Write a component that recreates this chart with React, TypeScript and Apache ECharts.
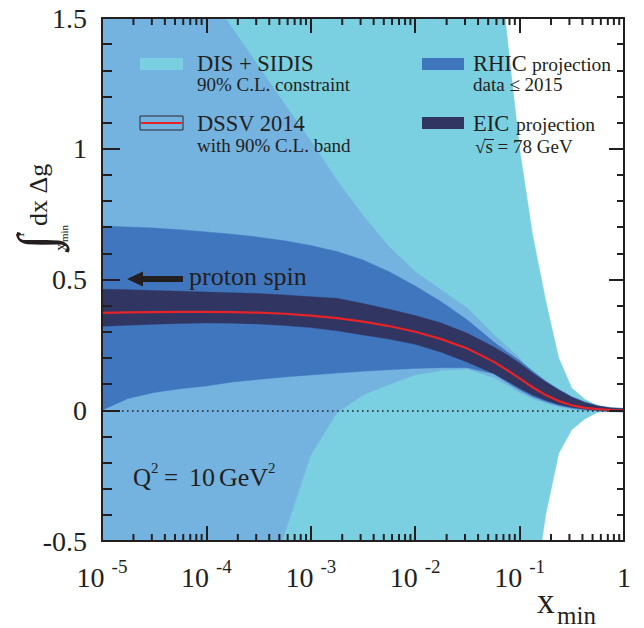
import React, { useEffect, useRef } from 'react';
import * as echarts from 'echarts';

// log10(x_min) grid
const lgx = [-5, -4.75, -4.5, -4.25, -4, -3.75, -3.5, -3.25, -3, -2.75, -2.5, -2.25, -2, -1.75, -1.5, -1.25, -1.125, -1, -0.875, -0.75, -0.625, -0.5, -0.375, -0.25, -0.125, 0];

// DSSV 2014 central curve
const dssvCentral = [0.372, 0.374, 0.375, 0.376, 0.376, 0.375, 0.373, 0.369, 0.362, 0.352, 0.339, 0.322, 0.3, 0.272, 0.236, 0.186, 0.155, 0.122, 0.088, 0.058, 0.035, 0.019, 0.009, 0.004, 0.001, 0.0];
// DSSV 2014 90% C.L. band
const dssvLow = [-1.6, -1.5, -1.4, -1.3, -1.2, -1.05, -0.8, -0.47, -0.17, -0.01, 0.058, 0.098, 0.135, 0.152, 0.158, 0.125, 0.098, 0.068, 0.045, 0.027, 0.013, 0.004, 0.0, -0.004, -0.006, -0.008];
const dssvHigh = [2.17, 2.03, 1.886, 1.745, 1.6, 1.46, 1.315, 1.17, 1.03, 0.88, 0.745, 0.625, 0.53, 0.46, 0.39, 0.29, 0.245, 0.2, 0.14, 0.09, 0.058, 0.035, 0.02, 0.012, 0.008, 0.006];
// DIS + SIDIS 90% C.L. constraint
const disLow = [-6.0, -5.8, -5.6, -5.4, -5.2, -5.0, -4.8, -4.6, -4.4, -4.2, -4.0, -3.7, -3.4, -3.0, -2.6, -2.2, -1.9, -1.45, -0.75, -0.4, -0.165, -0.075, -0.033, -0.008, -0.004, -0.004];
const disHigh = [8.0, 7.7, 7.4, 7.1, 6.8, 6.5, 6.2, 5.9, 5.6, 5.3, 5.0, 4.6, 4.2, 3.6, 2.9, 2.0, 1.45, 1.0, 0.67, 0.42, 0.2, 0.085, 0.042, 0.016, 0.008, 0.005];
// RHIC projection (data <= 2015)
const rhicLow = [0.0, 0.045, 0.068, 0.082, 0.093, 0.108, 0.118, 0.127, 0.135, 0.142, 0.149, 0.155, 0.16, 0.163, 0.163, 0.14, 0.108, 0.078, 0.052, 0.033, 0.018, 0.008, 0.002, -0.002, -0.004, -0.006];
const rhicHigh = [0.705, 0.701, 0.697, 0.69, 0.682, 0.673, 0.662, 0.648, 0.63, 0.607, 0.575, 0.53, 0.475, 0.415, 0.345, 0.262, 0.225, 0.19, 0.15, 0.112, 0.08, 0.052, 0.032, 0.018, 0.01, 0.007];
// EIC projection sqrt(s) = 78 GeV
const eicLow = [0.321, 0.325, 0.329, 0.332, 0.334, 0.333, 0.33, 0.324, 0.316, 0.304, 0.288, 0.272, 0.252, 0.222, 0.184, 0.141, 0.113, 0.084, 0.058, 0.038, 0.022, 0.011, 0.004, 0.0, -0.003, -0.005];
const eicHigh = [0.463, 0.461, 0.458, 0.455, 0.452, 0.449, 0.446, 0.441, 0.434, 0.428, 0.408, 0.386, 0.362, 0.334, 0.294, 0.243, 0.213, 0.18, 0.142, 0.108, 0.077, 0.05, 0.03, 0.016, 0.009, 0.006];

// axes
const xDecades = [-5, -4, -3, -2, -1];
const minorMultipliers = [2, 3, 4, 5, 6, 7, 8, 9];
const minorTickExps = xDecades.flatMap((n) => minorMultipliers.map((k) => n + Math.log10(k)));
const X_MIN = -5, X_MAX = 0;
const Y_MIN = -0.5, Y_MAX = 1.5, Y_STEP = 0.5;

const INK = '#231F20';
const C_DIS = '#7AD0E0';
const C_DSSV = '#74B2E0';
const C_RHIC = '#4076BD';
const C_EIC = '#313562';
const C_RED = '#E62328';
const SERIF = "'Liberation Serif', 'DejaVu Serif', serif";

function band(name: string, low: number[], high: number[], color: string, z: number) {
  return {
    name, type: 'custom', silent: true, clip: true, z,
    data: lgx.map((x, i) => [x, low[i], high[i]]),
    encode: { x: 0, y: [1, 2] },
    renderItem: (params: any, api: any) => {
      if (params.dataIndex !== 0) return null;
      const top = lgx.map((x, i) => api.coord([x, high[i]]));
      const bot = lgx.map((x, i) => api.coord([x, low[i]])).reverse();
      const cs = params.coordSys;
      return {
        type: 'polygon',
        shape: { points: top.concat(bot) },
        style: { fill: color, stroke: color, lineWidth: 0.4 },
        clipPath: { type: 'rect', shape: { x: cs.x, y: cs.y, width: cs.width, height: cs.height } },
      };
    },
  };
}

function minorTicks(name: string, yEdge: number, offset: number) {
  return {
    name, type: 'scatter', silent: true, z: 60, zlevel: 0, clip: false,
    symbol: 'rect', symbolSize: [2, 7], symbolOffset: [0, offset],
    itemStyle: { color: INK, opacity: 1, borderWidth: 0 },
    emphasis: { disabled: true },
    data: minorTickExps.map((v) => [v, yEdge]),
  };
}

function txt(text: string, x: number, baseline: number, size: number, extra: any = {}) {
  return {
    type: 'text', x, y: baseline - 0.34 * size, z: 100, silent: true,
    style: { text, fontSize: size, fontFamily: SERIF, fill: INK, align: 'left', verticalAlign: 'middle', ...extra },
  };
}

function xAxisDef(position: string, showLabels: boolean) {
  return {
    type: 'value', min: X_MIN, max: X_MAX, interval: 1, position, z: 50,
    axisLine: { show: true, onZero: false, lineStyle: { color: INK, width: 2 } },
    axisTick: { show: true, inside: true, length: 15, lineStyle: { color: INK, width: 2 } },
    splitLine: { show: false },
    axisLabel: showLabels
      ? {
          margin: 16,
          formatter: (v: number) => (v === 0 ? '{b|1}' : `{b|10}{s|${v}}`),
          rich: {
            b: { fontSize: 28, fontFamily: SERIF, color: INK, padding: [6, 0, 0, 0] },
            s: { fontSize: 19, fontFamily: SERIF, color: INK, verticalAlign: 'top', padding: [0, 0, 0, 7] },
          },
        }
      : { show: false },
  };
}

function yAxisDef(position: string, major: number, minor: number, showLabels: boolean) {
  return {
    type: 'value', min: Y_MIN, max: Y_MAX, interval: Y_STEP, position, z: 50,
    axisLine: { show: true, onZero: false, lineStyle: { color: INK, width: 2 } },
    axisTick: { show: true, inside: true, length: major, lineStyle: { color: INK, width: 2 } },
    minorTick: { show: true, splitNumber: 5, length: minor, lineStyle: { color: INK, width: 2 } },
    splitLine: { show: false }, minorSplitLine: { show: false },
    axisLabel: showLabels ? { fontSize: 28, fontFamily: SERIF, color: INK, margin: 15 } : { show: false },
  };
}

export default function App() {
  const ref = useRef<HTMLDivElement>(null);
  useEffect(() => {
    if (!ref.current) return;
    const chart = echarts.init(ref.current, null, { renderer: 'svg' });
    const option: any = {
      animation: false,
      backgroundColor: '#ffffff',
      grid: { left: 102, right: 20, top: 18, bottom: 87, containLabel: false },
      xAxis: [xAxisDef('bottom', true), xAxisDef('top', false)],
      yAxis: [yAxisDef('left', 18, 10, true), yAxisDef('right', 15, 7, false)],
      series: [
        band('DIS + SIDIS', disLow, disHigh, C_DIS, 1),
        band('DSSV 2014 band', dssvLow, dssvHigh, C_DSSV, 2),
        band('RHIC projection', rhicLow, rhicHigh, C_RHIC, 3),
        {
          name: 'zero', type: 'line', data: [], silent: true, symbol: 'none', z: 4,
          markLine: {
            silent: true, symbol: 'none', label: { show: false }, z: 4,
            lineStyle: { type: [1.6, 3.4], color: INK, width: 1.6 },
            data: [{ yAxis: 0 }],
          },
        },
        band('EIC projection', eicLow, eicHigh, C_EIC, 5),
        {
          name: 'DSSV 2014', type: 'line', symbol: 'none', silent: true, z: 6,
          lineStyle: { color: C_RED, width: 2.2 },
          data: lgx.map((x, i) => [x, dssvCentral[i]]),
        },
        minorTicks('minor ticks bottom', Y_MIN, -3.5),
        minorTicks('minor ticks top', Y_MAX, 3.5),
      ],
      graphic: [
        // legend
        { type: 'rect', z: 100, silent: true, shape: { x: 140, y: 58, width: 43, height: 12 }, style: { fill: C_DIS } },
        txt('DIS + SIDIS', 197, 71, 22.5),
        txt('90% C.L. constraint', 197, 91, 19),
        { type: 'rect', z: 100, silent: true, shape: { x: 140, y: 116, width: 43, height: 14 }, style: { fill: C_DSSV, stroke: '#2a2a2a', lineWidth: 1 } },
        { type: 'line', z: 101, silent: true, shape: { x1: 141, y1: 123, x2: 182, y2: 123 }, style: { stroke: C_RED, lineWidth: 2 } },
        txt('DSSV 2014', 197, 131, 22.5),
        txt('with 90% C.L. band', 197, 152, 19),
        { type: 'rect', z: 100, silent: true, shape: { x: 422, y: 58, width: 42, height: 12 }, style: { fill: C_RHIC } },
        txt('RHIC', 473, 71, 22.5),
        txt('projection', 532, 71, 19.5),
        txt('data \u2264 2015', 473, 91, 19),
        { type: 'rect', z: 100, silent: true, shape: { x: 422, y: 117, width: 42, height: 12 }, style: { fill: C_EIC } },
        txt('EIC', 473, 131, 22.5),
        txt('projection', 516, 131, 19.5),
        txt('\u221As = 78 GeV', 475, 153, 19),
        { type: 'line', z: 101, silent: true, shape: { x1: 485, y1: 139.5, x2: 494, y2: 139.5 }, style: { stroke: INK, lineWidth: 1 } },
        // proton spin arrow
        { type: 'polygon', z: 100, silent: true, shape: { points: [[127, 279], [143, 271.5], [143, 286.5]] }, style: { fill: INK } },
        { type: 'rect', z: 100, silent: true, shape: { x: 141, y: 276, width: 42, height: 6 }, style: { fill: INK } },
        txt('proton spin', 189, 285, 26),
        // Q^2 label
        txt('Q', 133, 486, 25),
        txt('2', 151, 473, 15),
        txt('=', 164, 486, 25),
        txt('10', 189, 486, 26),
        txt('GeV', 219, 486, 26),
        txt('2', 268, 473, 15),
        // x axis title
        txt('x', 537, 613, 35),
        txt('min', 557, 624, 25),
        // y axis title (rotated)
        {
          type: 'group', x: 47, y: 253, rotation: Math.PI / 2, z: 100, silent: true,
          children: [
            { type: 'text', x: 11, y: -10, z: 100, style: { text: '\u222B', fontSize: 54, fontFamily: SERIF, fill: INK, align: 'center', verticalAlign: 'middle' } },
            { type: 'text', x: 18, y: -27, z: 100, style: { text: '1', fontSize: 12, fontFamily: SERIF, fill: INK, align: 'center', verticalAlign: 'middle' } },
            { type: 'text', x: 2, y: 19 - 0.34 * 16, z: 100, style: { text: 'x', fontSize: 16, fontFamily: SERIF, fill: INK, align: 'left', verticalAlign: 'middle' } },
            { type: 'text', x: 11, y: 21 - 0.34 * 11, z: 100, style: { text: 'min', fontSize: 11, fontFamily: SERIF, fill: INK, align: 'left', verticalAlign: 'middle' } },
            { type: 'text', x: 27, y: -0.34 * 26, z: 100, style: { text: 'dx \u0394g', fontSize: 26, fontFamily: SERIF, fill: INK, align: 'left', verticalAlign: 'middle' } },
          ],
        },
      ],
    };
    chart.setOption(option);
    return () => chart.dispose();
  }, []);
  return <div ref={ref} style={{ position: 'fixed', left: 0, top: 0, width: 644, height: 628 }} />;
}
